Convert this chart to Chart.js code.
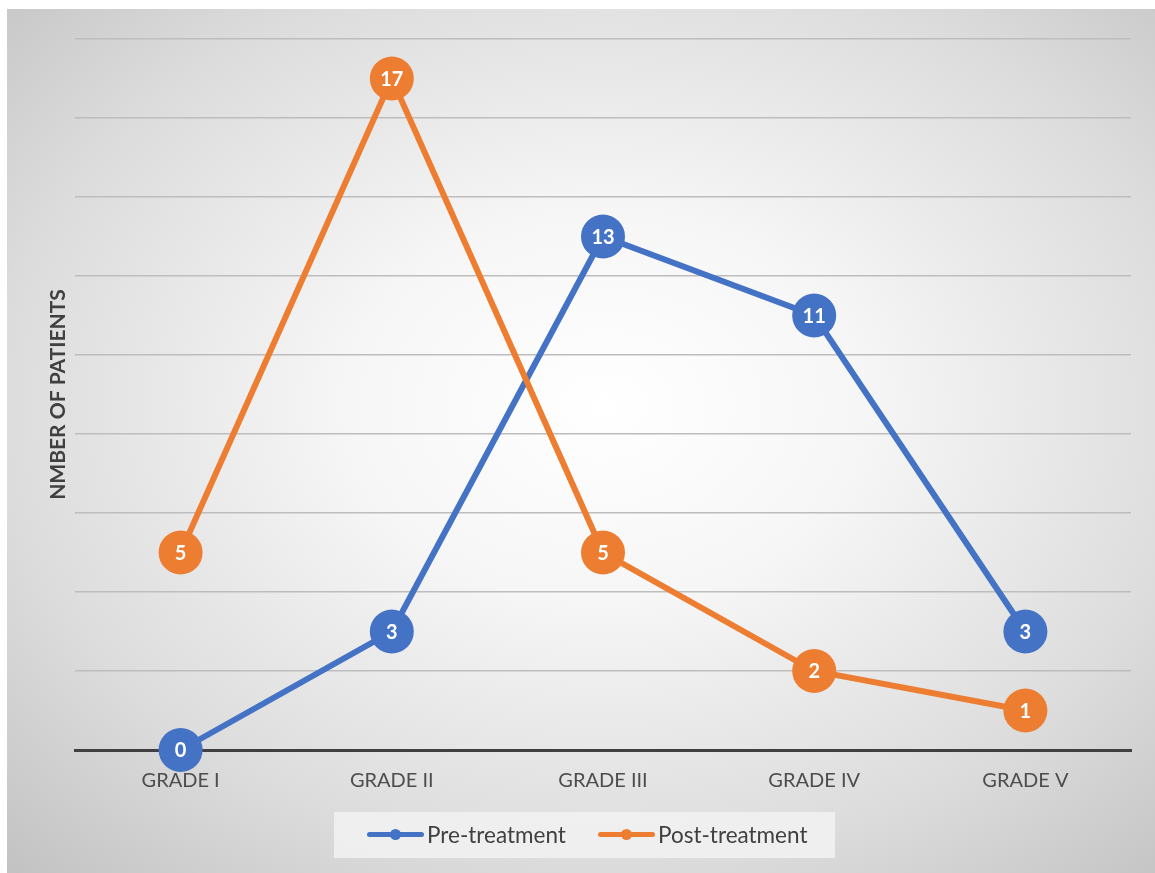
<!DOCTYPE html>
<html>
<head>
<meta charset="utf-8">
<script src="https://cdn.jsdelivr.net/npm/chart.js@4.4.0/dist/chart.umd.min.js"></script>
<style>
  html, body { margin: 0; padding: 0; background: #fff; }
  #wrap {
    position: absolute; left: 7px; top: 9px; width: 1148px; height: 864px;
    background: radial-gradient(ellipse 75% 75% at 52% 46%, #ffffff 0%, #f6f6f6 30%, #dcdcdc 70%, #c2c2c2 100%);
  }
  #chart { position: absolute; left: 0; top: 0; }
  #legend {
    position: absolute; left: 327px; top: 803px; width: 501px; height: 46px;
    background: rgba(242, 242, 242, 0.85);
    font-family: Lato, "Open Sans", sans-serif; font-size: 22.5px; color: #404040;
  }
  .item { position: absolute; top: 0; height: 46px; line-height: 46px; white-space: nowrap; }
  .mark { position: absolute; top: 20px; width: 57px; height: 5px; border-radius: 3px; }
  .mark i { position: absolute; left: 23px; top: -3px; width: 11px; height: 11px; border-radius: 50%; }
  .txt { position: absolute; left: 60px; top: 0; }
</style>
</head>
<body>
<div id="wrap">
  <canvas id="chart" width="1148" height="864"></canvas>
  <div id="legend">
    <div class="item" style="left:33px"><span class="mark" style="background:#4472C4"><i style="background:#4472C4"></i></span><span class="txt">Pre-treatment</span></div>
    <div class="item" style="left:264px"><span class="mark" style="background:#ED7D31"><i style="background:#ED7D31"></i></span><span class="txt">Post-treatment</span></div>
  </div>
</div>
<script>
const grades = ["GRADE I", "GRADE II", "GRADE III", "GRADE IV", "GRADE V"];
const preTreatment = [0, 3, 13, 11, 3];
const postTreatment = [5, 17, 5, 2, 1];
const yMax = 18;
const yStep = 2;

const blue = "#4472C4";
const orange = "#ED7D31";

// white numbers inside the markers
const pointLabels = {
  id: "pointLabels",
  afterDatasetsDraw(chart) {
    const ctx = chart.ctx;
    ctx.save();
    ctx.fillStyle = "#ffffff";
    ctx.font = "bold 20px Lato, 'Open Sans', sans-serif";
    ctx.textAlign = "center";
    ctx.textBaseline = "middle";
    chart.data.datasets.forEach((ds, i) => {
      chart.getDatasetMeta(i).data.forEach((pt, j) => {
        ctx.fillText(String(ds.data[j]), pt.x, pt.y + 1);
      });
    });
    ctx.restore();
  },
};

new Chart(document.getElementById("chart").getContext("2d"), {
  type: "line",
  data: {
    labels: grades,
    datasets: [
      {
        label: "Pre-treatment",
        data: preTreatment,
        borderColor: blue,
        backgroundColor: blue,
        borderWidth: 6,
        pointRadius: 22,
        pointBorderWidth: 0,
        pointBackgroundColor: blue,
        tension: 0,
        clip: false,
        order: 1,
      },
      {
        label: "Post-treatment",
        data: postTreatment,
        borderColor: orange,
        backgroundColor: orange,
        borderWidth: 6,
        pointRadius: 22,
        pointBorderWidth: 0,
        pointBackgroundColor: orange,
        tension: 0,
        clip: false,
        order: 0,
      },
    ],
  },
  options: {
    responsive: false,
    animation: false,
    layout: { padding: { left: 0, right: 24, top: 30, bottom: 83 } },
    scales: {
      x: {
        offset: true,
        grid: { display: false },
        border: { display: true, color: "#404040", width: 3 },
        ticks: {
          color: "#4d4d4d",
          padding: 11,
          font: { family: "Lato, 'Open Sans', sans-serif", size: 20 },
        },
        afterFit: (s) => { s.height = 40; },
      },
      y: {
        min: 0,
        max: yMax,
        ticks: { display: false, stepSize: yStep },
        grid: {
          color: (c) => (c.tick && c.tick.value === 0 ? "rgba(0,0,0,0)" : "#bdbdbd"),
          lineWidth: 1.5,
          drawTicks: false,
        },
        border: { display: false },
        title: {
          display: true,
          text: "NMBER OF PATIENTS",
          color: "#404040",
          padding: { top: 39, bottom: 0 },
          font: { family: "Lato, 'Open Sans', sans-serif", size: 21, weight: "bold" },
        },
        afterFit: (s) => { s.width = 68; },
      },
    },
    plugins: {
      legend: { display: false },
      tooltip: { enabled: false },
    },
  },
  plugins: [pointLabels],
});
</script>
</body>
</html>
